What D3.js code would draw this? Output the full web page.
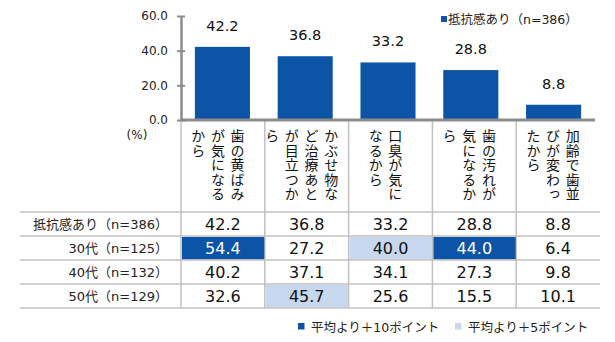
<!DOCTYPE html>
<html><head><meta charset="utf-8">
<script src="https://cdn.jsdelivr.net/npm/d3@7"></script>
<style>
html,body{margin:0;padding:0;background:#fff;}
svg text{font-family:"DejaVu Sans","Noto Sans CJK JP",sans-serif;}
</style>
</head><body>
<svg id="chart" width="615" height="342"></svg>
<script>
// ---- data ----
const categories = ["歯の黄ばみが気になるから","かぶせ物など治療あとが目立つから","口臭が気になるから","歯の汚れが気になるから","加齢で歯並びが変わったから"];
const categoryLines = [
  ["歯の黄ばみ","が気になる","から"],
  ["かぶせ物な","ど治療あと","が目立つか","ら"],
  ["口臭が気に","なるから"],
  ["歯の汚れが","気になるか","ら"],
  ["加齢で歯並","びが変わっ","たから"]
];
const seriesName = "抵抗感あり（n=386）";
const totalValues = [42.2, 36.8, 33.2, 28.8, 8.8];
const rowLabels = ["抵抗感あり（n=386）","30代（n=125）","40代（n=132）","50代（n=129）"];
const rowValues = [
  [42.2, 36.8, 33.2, 28.8, 8.8],
  [54.4, 27.2, 40.0, 44.0, 6.4],
  [40.2, 37.1, 34.1, 27.3, 9.8],
  [32.6, 45.7, 25.6, 15.5, 10.1]
];
// highlight level: 2 = +10 points, 1 = +5 points, 0 = none
const rowHighlight = [
  [0,0,0,0,0],
  [2,0,1,2,0],
  [0,0,0,0,0],
  [0,1,0,0,0]
];
const yTicks = [0, 20, 40, 60];
const legendLabels = ["平均より＋10ポイント","平均より＋5ポイント"];

// ---- styles ----
const DARK = "#0c55a6", LIGHT = "#c6d7ee", AXIS = "#8c8c8c", GRID = "#c0c0c0";

const svg = d3.select("#chart");

const x = d3.scaleBand().domain(d3.range(categories.length)).range([181, 595]).paddingInner(0.335).paddingOuter(0.1675);
const y = d3.scaleLinear().domain([0, 60]).range([120, 16]);
const tx = d3.scaleBand().domain(d3.range(categories.length)).range([181, 600]);
const rowY = d3.scaleBand().domain(d3.range(rowLabels.length)).range([212, 308]);

// bars
svg.append("g").selectAll("rect").data(totalValues).join("rect")
  .attr("x", (d,i)=>x(i)).attr("width", x.bandwidth())
  .attr("y", d=>y(d)).attr("height", d=>y(0)-y(d)).attr("fill", DARK);

// bar labels
svg.append("g").selectAll("text").data(totalValues).join("text")
  .attr("x", (d,i)=>x(i)+x.bandwidth()/2).attr("y", d=>y(d)-16)
  .attr("text-anchor","middle").attr("font-size","14.5px").attr("fill","#111")
  .text(d=>d.toFixed(1));

// y axis
const yAxis = d3.axisLeft(y).tickValues(yTicks).tickSize(0).tickPadding(13).tickFormat(d=>d.toFixed(1));
const gy = svg.append("g").attr("transform","translate(181,0)").call(yAxis);
gy.select(".domain").attr("stroke", AXIS).attr("stroke-width", 2.5);
gy.selectAll(".tick text").attr("font-size","12px").attr("fill","#222").attr("font-family","DejaVu Sans");
gy.selectAll(".tick").append("line").attr("x1",-4).attr("x2",4).attr("stroke",AXIS).attr("stroke-width",2);

// separators through label area and table
svg.append("g").selectAll("line").data(d3.range(categories.length)).join("line")
  .attr("x1", i=>tx(i)).attr("x2", i=>tx(i)).attr("y1", 120).attr("y2", 308)
  .attr("stroke", GRID).attr("stroke-width", 1.5);

// baseline
svg.append("line").attr("x1",180).attr("x2",595).attr("y1",y(0)).attr("y2",y(0))
  .attr("stroke", AXIS).attr("stroke-width", 3);

// (%)
svg.append("text").attr("x",137).attr("y",139).attr("text-anchor","middle")
  .attr("font-size","12px").attr("fill","#222").text("(%)");

// vertical category labels
const colStep = 19.7;
categoryLines.forEach((lines, i) => {
  const mid = tx(i) + tx.bandwidth()/2 - 5;
  const n = lines.length;
  lines.forEach((s, j) => {
    svg.append("text")
      .attr("x", mid + ((n-1)/2 - j)*colStep)
      .attr("y", 129)
      .style("writing-mode","vertical-rl")
      .style("font-family",'"Noto Sans CJK JP",sans-serif')
      .attr("font-size","14px").attr("letter-spacing","0.4px").attr("fill","#111")
      .text(s);
  });
});

// table highlights
rowValues.forEach((row, r) => {
  row.forEach((v, c) => {
    const h = rowHighlight[r][c];
    if (h) {
      svg.append("rect").attr("x", tx(c)+1).attr("y", rowY(r)+1)
        .attr("width", tx.bandwidth()-1.5).attr("height", rowY.bandwidth()-1.5)
        .attr("fill", h===2 ? DARK : LIGHT);
    }
  });
});

// table horizontal lines
svg.append("g").selectAll("line").data(d3.range(rowLabels.length+1)).join("line")
  .attr("x1", 20).attr("x2", 600)
  .attr("y1", r=>212 + r*rowY.bandwidth()).attr("y2", r=>212 + r*rowY.bandwidth())
  .attr("stroke", GRID).attr("stroke-width", 1.5);

// row labels
svg.append("g").selectAll("text").data(rowLabels).join("text")
  .attr("x", 168).attr("y", (d,i)=>rowY(i)+rowY.bandwidth()/2+5)
  .attr("text-anchor","end").attr("font-size","13px").attr("fill","#222")
  .text(d=>d);

// table values
rowValues.forEach((row, r) => {
  svg.append("g").selectAll("text").data(row).join("text")
    .attr("x", (d,c)=>tx(c)+tx.bandwidth()/2)
    .attr("y", rowY(r)+rowY.bandwidth()/2+6)
    .attr("text-anchor","middle").attr("font-size","16px")
    .attr("fill", (d,c)=>rowHighlight[r][c]===2 ? "#fff" : "#111")
    .text(d=>d.toFixed(1));
});

// top legend
svg.append("rect").attr("x",441).attr("y",16).attr("width",6).attr("height",6).attr("fill",DARK);
svg.append("text").attr("x",448).attr("y",23.5).attr("font-size","12.5px").attr("fill","#222").text(seriesName);

// bottom legend
const legX = [298, 455];
legendLabels.forEach((t, i) => {
  svg.append("rect").attr("x",legX[i]).attr("y",323).attr("width",6.5).attr("height",6.5)
    .attr("fill", i===0 ? DARK : LIGHT);
  svg.append("text").attr("x",legX[i]+13).attr("y",331.5).attr("font-size","12.5px").attr("fill","#222").text(t);
});
</script>
</body></html>
